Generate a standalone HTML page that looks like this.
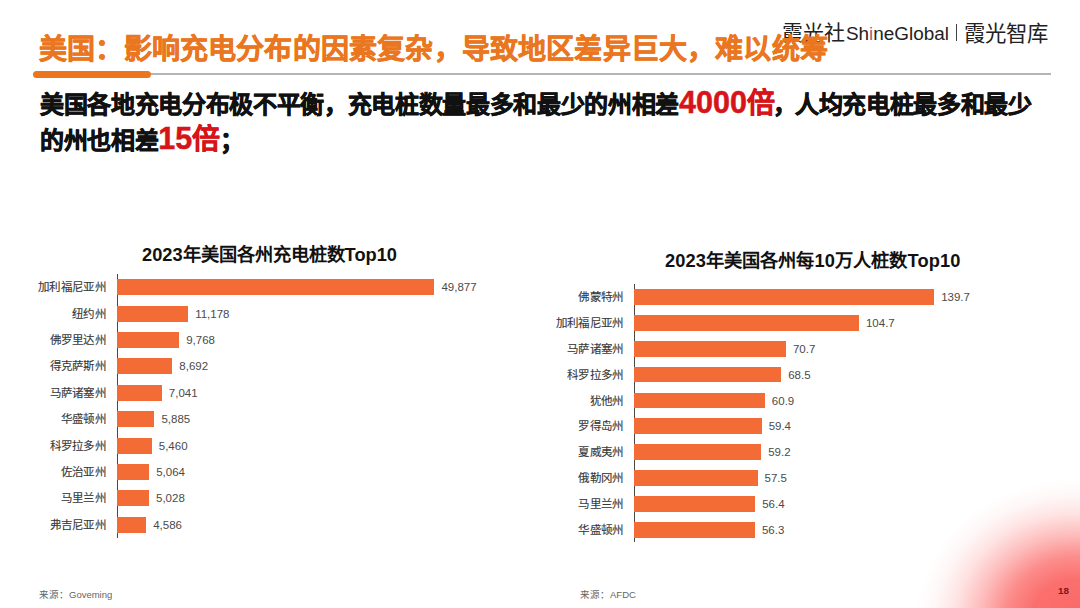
<!DOCTYPE html>
<html lang="zh-CN">
<head>
<meta charset="utf-8">
<style>
html,body{margin:0;padding:0;}
body{width:1080px;height:608px;position:relative;overflow:hidden;background:#fff;font-family:"Liberation Sans",sans-serif;}
.abs{position:absolute;white-space:nowrap;}
#blob{position:absolute;left:0;top:0;width:1080px;height:608px;background:radial-gradient(ellipse 160px 140px at 1076px 619px, rgba(250,96,94,0.95) 0%, rgba(250,96,94,0.9) 28%, rgba(250,96,94,0.72) 44%, rgba(250,96,94,0.42) 60%, rgba(250,96,94,0.18) 75%, rgba(250,96,94,0.05) 88%, rgba(250,96,94,0) 100%);}
.logo{font-size:21px;color:#222;font-weight:300;}
#sg{font-size:18.9px;color:#222;}
#title{left:39px;top:27px;font-size:28px;letter-spacing:0.18px;font-weight:bold;color:#EA7620;-webkit-text-stroke:0.6px #EA7620;}
#line{left:33px;top:73px;width:1018px;height:2px;background:#b5b5b5;}
#bar{left:33px;top:71px;width:118px;height:7px;border-radius:4px;background:#EC7620;}
.sub{left:40px;font-size:24px;letter-spacing:-0.33px;line-height:34px;font-weight:bold;color:#111;-webkit-text-stroke:0.7px #111;}
.red{color:#D7141A;-webkit-text-stroke:0.5px #D7141A;font-size:30.5px;line-height:0;letter-spacing:0;}
.red i{font-style:normal;font-size:28px;}
.ctitle{font-size:18.25px;font-weight:bold;color:#111;}
.axis{position:absolute;width:1.6px;background:#484848;}
.b{position:absolute;height:16px;background:#F36C35;}
.lbl{position:absolute;font-size:11.5px;letter-spacing:0.3px;color:#383838;-webkit-text-stroke:0.12px #383838;text-align:right;width:100px;line-height:16px;}
.val{position:absolute;font-size:11.5px;color:#4a4a4a;line-height:16px;}
.src{font-size:9.5px;color:#666;}
#pn{left:1058px;top:585px;font-size:9.8px;font-weight:bold;color:#7a1620;}
</style>
</head>
<body>
<div id="blob"></div>
<div class="abs logo" style="left:781.5px;top:16px;">霞光社</div>
<div class="abs" id="sg" style="left:846px;top:23px;">Sh<span style="color:#a8606a">i</span>neGlobal</div>
<div class="abs" style="left:955.5px;top:24px;width:1.2px;height:17px;background:#444;"></div>
<div class="abs logo" style="left:964px;top:16px;font-size:21.4px;">霞光智库</div>
<div class="abs" id="line"></div>
<div class="abs" id="bar"></div>
<div class="abs" id="title">美国：影响充电分布的因素复杂，导致地区差异巨大，难以统筹</div>
<div class="abs sub" style="top:88px;">美国各地充电分布极不平衡，充电桩数量最多和最少的州相差<span class="red">4000<i>倍</i></span><span style="margin-left:-1.5px;margin-right:-2px;">，</span>人均充电桩最多和最少</div>
<div class="abs sub" style="top:124px;">的州也相差<span class="red">15<i>倍</i></span>；</div>

<div class="abs ctitle" style="left:142px;top:240px;">2023年美国各州充电桩数Top10</div>
<div class="abs ctitle" style="left:665px;top:246px;letter-spacing:0.1px;">2023年美国各州每10万人桩数Top10</div>

<div id="c1"><div class="axis" style="left:116.5px;top:274px;height:264px;"></div>
<div class="b" style="left:117px;top:279.30px;width:317.47px;height:16px;"></div>
<div class="lbl" style="left:6px;top:279.30px;">加利福尼亚州</div>
<div class="val" style="left:441.47px;top:279.30px;">49,877</div>
<div class="b" style="left:117px;top:305.69px;width:71.15px;height:16px;"></div>
<div class="lbl" style="left:6px;top:305.69px;">纽约州</div>
<div class="val" style="left:195.15px;top:305.69px;">11,178</div>
<div class="b" style="left:117px;top:332.08px;width:62.17px;height:16px;"></div>
<div class="lbl" style="left:6px;top:332.08px;">佛罗里达州</div>
<div class="val" style="left:186.17px;top:332.08px;">9,768</div>
<div class="b" style="left:117px;top:358.47px;width:55.32px;height:16px;"></div>
<div class="lbl" style="left:6px;top:358.47px;">得克萨斯州</div>
<div class="val" style="left:179.32px;top:358.47px;">8,692</div>
<div class="b" style="left:117px;top:384.86px;width:44.82px;height:16px;"></div>
<div class="lbl" style="left:6px;top:384.86px;">马萨诸塞州</div>
<div class="val" style="left:168.82px;top:384.86px;">7,041</div>
<div class="b" style="left:117px;top:411.25px;width:37.46px;height:16px;"></div>
<div class="lbl" style="left:6px;top:411.25px;">华盛顿州</div>
<div class="val" style="left:161.46px;top:411.25px;">5,885</div>
<div class="b" style="left:117px;top:437.64px;width:34.75px;height:16px;"></div>
<div class="lbl" style="left:6px;top:437.64px;">科罗拉多州</div>
<div class="val" style="left:158.75px;top:437.64px;">5,460</div>
<div class="b" style="left:117px;top:464.03px;width:32.23px;height:16px;"></div>
<div class="lbl" style="left:6px;top:464.03px;">佐治亚州</div>
<div class="val" style="left:156.23px;top:464.03px;">5,064</div>
<div class="b" style="left:117px;top:490.42px;width:32.00px;height:16px;"></div>
<div class="lbl" style="left:6px;top:490.42px;">马里兰州</div>
<div class="val" style="left:156.00px;top:490.42px;">5,028</div>
<div class="b" style="left:117px;top:516.81px;width:29.19px;height:16px;"></div>
<div class="lbl" style="left:6px;top:516.81px;">弗吉尼亚州</div>
<div class="val" style="left:153.19px;top:516.81px;">4,586</div></div><!--c1-->
<div id="c2"><div class="axis" style="left:633.5px;top:284px;height:258px;"></div>
<div class="b" style="left:634px;top:289.10px;width:300.16px;height:15.7px;"></div>
<div class="lbl" style="left:523.5px;top:289.10px;">佛蒙特州</div>
<div class="val" style="left:941.16px;top:289.10px;">139.7</div>
<div class="b" style="left:634px;top:314.97px;width:224.96px;height:15.7px;"></div>
<div class="lbl" style="left:523.5px;top:314.97px;">加利福尼亚州</div>
<div class="val" style="left:865.96px;top:314.97px;">104.7</div>
<div class="b" style="left:634px;top:340.84px;width:151.91px;height:15.7px;"></div>
<div class="lbl" style="left:523.5px;top:340.84px;">马萨诸塞州</div>
<div class="val" style="left:792.91px;top:340.84px;">70.7</div>
<div class="b" style="left:634px;top:366.71px;width:147.18px;height:15.7px;"></div>
<div class="lbl" style="left:523.5px;top:366.71px;">科罗拉多州</div>
<div class="val" style="left:788.18px;top:366.71px;">68.5</div>
<div class="b" style="left:634px;top:392.58px;width:130.85px;height:15.7px;"></div>
<div class="lbl" style="left:523.5px;top:392.58px;">犹他州</div>
<div class="val" style="left:771.85px;top:392.58px;">60.9</div>
<div class="b" style="left:634px;top:418.45px;width:127.63px;height:15.7px;"></div>
<div class="lbl" style="left:523.5px;top:418.45px;">罗得岛州</div>
<div class="val" style="left:768.63px;top:418.45px;">59.4</div>
<div class="b" style="left:634px;top:444.32px;width:127.20px;height:15.7px;"></div>
<div class="lbl" style="left:523.5px;top:444.32px;">夏威夷州</div>
<div class="val" style="left:768.20px;top:444.32px;">59.2</div>
<div class="b" style="left:634px;top:470.19px;width:123.54px;height:15.7px;"></div>
<div class="lbl" style="left:523.5px;top:470.19px;">俄勒冈州</div>
<div class="val" style="left:764.54px;top:470.19px;">57.5</div>
<div class="b" style="left:634px;top:496.06px;width:121.18px;height:15.7px;"></div>
<div class="lbl" style="left:523.5px;top:496.06px;">马里兰州</div>
<div class="val" style="left:762.18px;top:496.06px;">56.4</div>
<div class="b" style="left:634px;top:521.93px;width:120.97px;height:15.7px;"></div>
<div class="lbl" style="left:523.5px;top:521.93px;">华盛顿州</div>
<div class="val" style="left:761.97px;top:521.93px;">56.3</div></div><!--c2-->

<div class="abs src" style="left:39px;top:586.5px;">来源：Goveming</div>
<div class="abs src" style="left:580px;top:586.5px;">来源：AFDC</div>
<div class="abs" id="pn">18</div>

</body>
</html>
